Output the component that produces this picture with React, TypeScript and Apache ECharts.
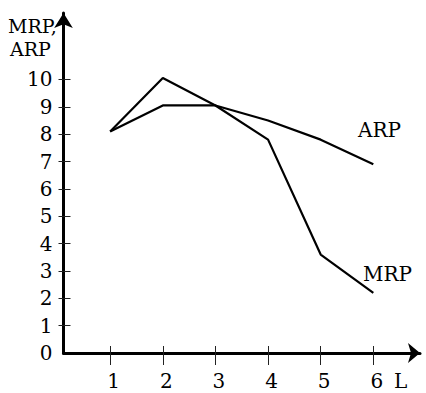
import React, { useEffect, useRef } from "react";
import * as echarts from "echarts";

const L = [1, 2, 3, 4, 5, 6];
const mrpValues = [8.1, 10.05, 9.05, 7.8, 3.6, 2.2];
const arpValues = [8.1, 9.05, 9.05, 8.5, 7.8, 6.9];
const yTickValues = [0, 1, 2, 3, 4, 5, 6, 7, 8, 9, 10];
const xTickValues = [1, 2, 3, 4, 5, 6];

const FONT = "DejaVu Serif";
const FS = 20;

export default function App() {
  const ref = useRef<HTMLDivElement>(null);
  useEffect(() => {
    if (!ref.current) return;
    const chart = echarts.init(ref.current, null, { renderer: "svg" });
    const xMin = 0.113;
    const xMax = 6.887;
    const yMax = 12.43;
    const axisLineStyle = { color: "#000", width: 3 };
    const tickStyle = { color: "#222", width: 1 };
    const textStyle = (text: string, size = FS) => ({
      text,
      fontFamily: FONT,
      fontSize: size,
      fill: "#000",
    });
    const option: any = {
      animation: false,
      backgroundColor: "#fff",
      textStyle: { fontFamily: FONT },
      grid: { left: 63.5, right: 6, top: 13, bottom: 40 },
      xAxis: [
        {
          type: "value",
          position: "bottom",
          min: xMin,
          max: xMax,
          splitLine: { show: false },
          axisLine: {
            show: true,
            lineStyle: axisLineStyle,
            symbol: ["none", "arrow"],
            symbolSize: [15, 12],
          },
          axisTick: {
            show: true,
            inside: false,
            length: 12,
            lineStyle: tickStyle,
            customValues: xTickValues,
          },
          axisLabel: {
            show: true,
            customValues: xTickValues,
            margin: 18,
            padding: [0, 0, 0, 7],
            color: "#000",
            fontFamily: FONT,
            fontSize: FS,
          },
        },
        {
          type: "value",
          position: "bottom",
          min: xMin,
          max: xMax,
          splitLine: { show: false },
          axisLine: { show: false },
          axisTick: {
            show: true,
            inside: true,
            length: 7,
            lineStyle: tickStyle,
            customValues: xTickValues,
          },
          axisLabel: { show: false },
        },
      ],
      yAxis: [
        {
          type: "value",
          position: "left",
          min: 0,
          max: yMax,
          splitLine: { show: false },
          axisLine: {
            show: true,
            lineStyle: axisLineStyle,
            symbol: ["none", "arrow"],
            symbolSize: [14, 15],
          },
          axisTick: {
            show: true,
            inside: false,
            length: 5,
            lineStyle: tickStyle,
            customValues: yTickValues.filter((v) => v > 0),
          },
          axisLabel: {
            show: true,
            customValues: yTickValues,
            margin: 11,
            color: "#000",
            fontFamily: FONT,
            fontSize: FS,
          },
        },
        {
          type: "value",
          position: "left",
          min: 0,
          max: yMax,
          splitLine: { show: false },
          axisLine: { show: false },
          axisTick: {
            show: true,
            inside: true,
            length: 7,
            lineStyle: tickStyle,
            customValues: yTickValues.filter((v) => v > 0),
          },
          axisLabel: { show: false },
        },
      ],
      series: [
        {
          name: "MRP",
          type: "line",
          xAxisIndex: 0,
          yAxisIndex: 0,
          data: L.map((l, i) => [l, mrpValues[i]]),
          showSymbol: false,
          symbol: "none",
          lineStyle: { color: "#000", width: 2.2 },
          silent: true,
        },
        {
          name: "ARP",
          type: "line",
          xAxisIndex: 0,
          yAxisIndex: 0,
          data: L.map((l, i) => [l, arpValues[i]]),
          showSymbol: false,
          symbol: "none",
          lineStyle: { color: "#000", width: 2.2 },
          silent: true,
        },
      ],
      graphic: [
        { type: "text", left: 8, top: 16, style: textStyle("MRP,", 19) },
        { type: "text", left: 10, top: 39, style: textStyle("ARP", 19) },
        { type: "text", left: 358, top: 120, style: textStyle("ARP") },
        { type: "text", left: 363, top: 264, style: textStyle("MRP") },
        { type: "text", left: 394, top: 371, style: textStyle("L") },
      ],
    };
    chart.setOption(option);
    return () => chart.dispose();
  }, []);
  return (
    <div
      ref={ref}
      style={{ position: "fixed", left: 0, top: 0, width: 426, height: 393 }}
    />
  );
}
